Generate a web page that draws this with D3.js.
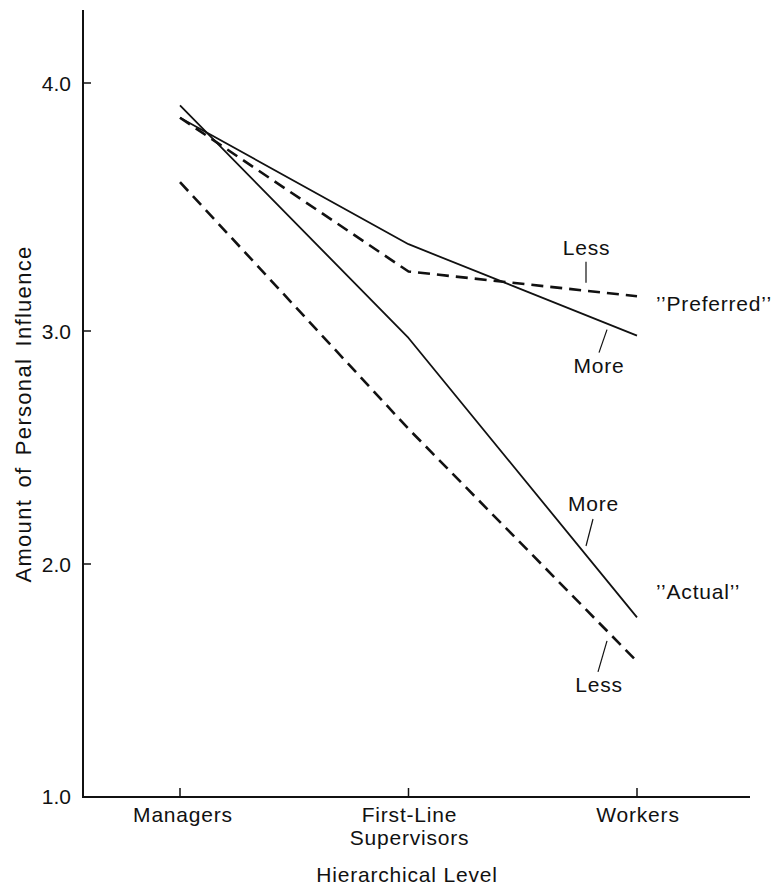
<!DOCTYPE html>
<html>
<head>
<meta charset="utf-8">
<script src="https://cdn.jsdelivr.net/npm/d3@7/dist/d3.min.js"></script>
<style>
  html, body { margin: 0; padding: 0; background: #fff; }
  svg text { font-family: "Liberation Sans", Arial, Helvetica, sans-serif; fill: #111; }
</style>
</head>
<body>
<svg id="chart" width="784" height="886"></svg>
<script>
// ---- data ----
const categories = ["Managers", "First-Line Supervisors", "Workers"];
const categoryLabels = [["Managers"], ["First-Line", "Supervisors"], ["Workers"]];
const yTicks = [1.0, 2.0, 3.0, 4.0];
const actualMore     = [3.91, 2.97, 1.77];
const actualLess     = [3.60, 2.58, 1.58];
const preferredMore  = [3.86, 3.35, 2.98];
const preferredLess  = [3.86, 3.24, 3.14];

const series = [
  { key: "actualMore",    values: actualMore,    dashed: false },
  { key: "actualLess",    values: actualLess,    dashed: true  },
  { key: "preferredMore", values: preferredMore, dashed: false },
  { key: "preferredLess", values: preferredLess, dashed: true  }
];

// ---- layout ----
const svg = d3.select("#chart");
const axisLeftX = 83, axisBottomY = 797, axisTopY = 10, axisRightX = 750;

const x = d3.scalePoint().domain(categories).range([180, 637]);
const xi = d3.scaleLinear().domain([0, 2]).range([180, 637]);
// hand-drawn original has slightly uneven tick spacing
const y = d3.scaleLinear().domain([1, 2, 3, 4]).range([796, 564, 331, 83]);

const font = 21, ls = 0.8;

// axes lines
svg.append("line").attr("x1", axisLeftX).attr("x2", axisLeftX)
  .attr("y1", axisTopY).attr("y2", axisBottomY + 1)
  .attr("stroke", "#111").attr("stroke-width", 2);
svg.append("line").attr("x1", axisLeftX - 1).attr("x2", axisRightX)
  .attr("y1", axisBottomY).attr("y2", axisBottomY)
  .attr("stroke", "#111").attr("stroke-width", 2);

// y ticks
const yt = svg.append("g");
yt.selectAll("line").data(yTicks.filter(d => d > 1)).join("line")
  .attr("x1", axisLeftX).attr("x2", axisLeftX + 8)
  .attr("y1", d => y(d)).attr("y2", d => y(d))
  .attr("stroke", "#111").attr("stroke-width", 1.5);
yt.selectAll("text").data(yTicks).join("text")
  .attr("x", 71).attr("y", d => y(d) + 7.5)
  .attr("text-anchor", "end").attr("font-size", font)
  .text(d => d3.format(".1f")(d));

// x ticks
const xt = svg.append("g");
xt.selectAll("line").data(categories).join("line")
  .attr("x1", d => x(d)).attr("x2", d => x(d))
  .attr("y1", axisBottomY).attr("y2", axisBottomY - 9)
  .attr("stroke", "#111").attr("stroke-width", 1.5);
categories.forEach((c, i) => {
  categoryLabels[i].forEach((ln, j) => {
    svg.append("text")
      .attr("x", x(c) + (i === 0 ? 3 : 1)).attr("y", 822 + j * 23)
      .attr("text-anchor", "middle").attr("font-size", font)
      .attr("letter-spacing", ls)
      .text(ln);
  });
});

// axis titles
svg.append("text")
  .attr("x", 407).attr("y", 882)
  .attr("text-anchor", "middle").attr("font-size", font)
  .attr("letter-spacing", ls)
  .text("Hierarchical Level");
svg.append("text")
  .attr("transform", "translate(31,414) rotate(-90)")
  .attr("text-anchor", "middle").attr("font-size", 22)
  .attr("letter-spacing", 1.3).attr("word-spacing", 4)
  .text("Amount of Personal Influence");

// lines
const line = d3.line().x((d, i) => x(categories[i])).y(d => y(d));
svg.append("g").selectAll("path").data(series).join("path")
  .attr("d", d => line(d.values))
  .attr("fill", "none")
  .attr("stroke", "#111")
  .attr("stroke-width", d => d.dashed ? 2.6 : 1.8)
  .attr("stroke-dasharray", d => d.dashed ? "12,7" : null)
  .attr("stroke-linejoin", "round");

// point on a series line at fractional category index t (pixel interpolation)
function pointOn(values, t) {
  const i = Math.min(Math.floor(t), values.length - 2);
  const f = t - i;
  const y0 = y(values[i]), y1 = y(values[i + 1]);
  return [xi(t), y0 + (y1 - y0) * f];
}

// annotations: leader from offset a to offset b of anchor, text at offset tx
const annotations = [
  { text: "Less", values: preferredLess, t: (586 - 180) / 228.5, a: [0, -8],  b: [0, -29], tx: [0.5, -36] },
  { text: "More", values: preferredMore, t: (607 - 180) / 228.5, a: [0, 6],   b: [-8, 29], tx: [-8, 49] },
  { text: "More", values: actualMore,    t: (586 - 180) / 228.5, a: [0, -9],  b: [7, -36], tx: [7.5, -44] },
  { text: "Less", values: actualLess,    t: (607 - 180) / 228.5, a: [0, 10],  b: [-9, 41], tx: [-8, 61] }
];
const ag = svg.append("g");
annotations.forEach(an => {
  const p = pointOn(an.values, an.t);
  ag.append("line")
    .attr("x1", p[0] + an.a[0]).attr("y1", p[1] + an.a[1])
    .attr("x2", p[0] + an.b[0]).attr("y2", p[1] + an.b[1])
    .attr("stroke", "#111").attr("stroke-width", 1.2);
  ag.append("text")
    .attr("x", p[0] + an.tx[0]).attr("y", p[1] + an.tx[1])
    .attr("text-anchor", "middle").attr("font-size", font)
    .attr("letter-spacing", ls)
    .text(an.text);
});

// series labels
const seriesLabels = [
  { text: "\u2019\u2019Preferred\u2019\u2019", values: preferredMore, dy: -25 },
  { text: "\u2019\u2019Actual\u2019\u2019",    values: actualMore,    dy: -18 }
];
seriesLabels.forEach(s => {
  ag.append("text")
    .attr("x", x("Workers") + 19).attr("y", y(s.values[2]) + s.dy)
    .attr("font-size", font).attr("letter-spacing", ls)
    .text(s.text);
});
</script>
</body>
</html>
